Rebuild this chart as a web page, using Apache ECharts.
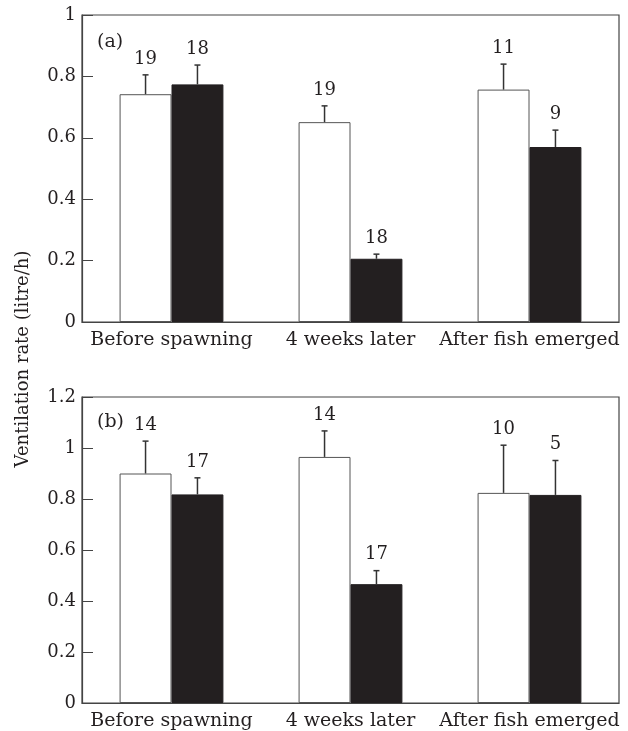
<!DOCTYPE html>
<html>
<head>
<meta charset="utf-8">
<script src="https://cdn.jsdelivr.net/npm/echarts@6/dist/echarts.min.js"></script>
<style>html,body{margin:0;padding:0;background:#fff}#c{width:628px;height:731px}</style>
</head>
<body>
<div id="c"></div>
<script>
const categories = ['Before spawning', '4 weeks later', 'After fish emerged'];
// Panel (a)
const aWhiteMean = [0.742, 0.651, 0.757];
const aWhiteSE   = [0.063, 0.053, 0.083];
const aWhiteN    = [19, 19, 11];
const aBlackMean = [0.774, 0.206, 0.570];
const aBlackSE   = [0.063, 0.015, 0.055];
const aBlackN    = [18, 18, 9];
// Panel (b)
const bWhiteMean = [0.900, 0.965, 0.824];
const bWhiteSE   = [0.127, 0.102, 0.187];
const bWhiteN    = [14, 14, 10];
const bBlackMean = [0.818, 0.466, 0.816];
const bBlackSE   = [0.065, 0.053, 0.135];
const bBlackN    = [17, 17, 5];

const FONT = 'DejaVu Serif';
const INK = '#231f20';
const AX = '#444';
const BARW = 0.29;

function errItem(sign) {
  return function (params, api) {
    const cat = api.value(0), mean = api.value(1), se = api.value(2), n = api.value(3);
    const base = api.coord([cat, mean]);
    const top = api.coord([cat, mean + se]);
    const band = api.size([1, 0])[0];
    const x = base[0] + sign * band * BARW / 2;
    return {
      type: 'group',
      children: [
        { type: 'line', shape: { x1: x, y1: base[1], x2: x, y2: top[1] }, style: { stroke: '#333', lineWidth: 1.5 } },
        { type: 'line', shape: { x1: x - 3, y1: top[1], x2: x + 3, y2: top[1] }, style: { stroke: '#333', lineWidth: 1.5 } },
        { type: 'text', x: x, y: top[1] - 7, style: { text: String(n), fontSize: 18, fontFamily: FONT, fill: INK, align: 'center', verticalAlign: 'bottom' } }
      ]
    };
  };
}
function errData(mean, se, n) { return mean.map((m, i) => [i, m, se[i], n[i]]); }

function xAx(idx) {
  return {
    type: 'category', gridIndex: idx, data: categories,
    axisLine: { lineStyle: { color: AX, width: 1.2 } },
    axisTick: { inside: true, length: 10, lineStyle: { color: AX } },
    axisLabel: { fontFamily: FONT, fontSize: 19, color: INK, margin: 9, interval: 0 }
  };
}
function yAx(idx, max) {
  return {
    type: 'value', gridIndex: idx, min: 0, max: max, interval: 0.2,
    axisLine: { show: true, lineStyle: { color: AX, width: 1.2 } },
    axisTick: { show: true, inside: true, length: 11, lineStyle: { color: AX } },
    axisLabel: { fontFamily: FONT, fontSize: 18, color: INK, margin: 6 },
    splitLine: { show: false }
  };
}
function bars(idx, data, fill) {
  return {
    type: 'bar', xAxisIndex: idx, yAxisIndex: idx, data: data,
    barWidth: (BARW * 100) + '%', barGap: '0%',
    itemStyle: { color: fill, borderColor: fill === '#fff' ? '#555' : INK, borderWidth: 1 },
    silent: true, animation: false
  };
}
function errs(idx, mean, se, n, sign) {
  return {
    type: 'custom', xAxisIndex: idx, yAxisIndex: idx, renderItem: errItem(sign),
    data: errData(mean, se, n), z: 5, silent: true, animation: false
  };
}

const chart = echarts.init(document.getElementById('c'));
chart.setOption({
  animation: false,
  backgroundColor: '#fff',
  grid: [
    { left: 82, top: 15, width: 537, height: 307, show: true, borderColor: AX, borderWidth: 1.2, backgroundColor: 'transparent' },
    { left: 82, top: 397, width: 537, height: 306, show: true, borderColor: AX, borderWidth: 1.2, backgroundColor: 'transparent' }
  ],
  xAxis: [xAx(0), xAx(1)],
  yAxis: [yAx(0, 1), yAx(1, 1.2)],
  series: [
    bars(0, aWhiteMean, '#fff'), bars(0, aBlackMean, INK),
    errs(0, aWhiteMean, aWhiteSE, aWhiteN, -1), errs(0, aBlackMean, aBlackSE, aBlackN, 1),
    bars(1, bWhiteMean, '#fff'), bars(1, bBlackMean, INK),
    errs(1, bWhiteMean, bWhiteSE, bWhiteN, -1), errs(1, bBlackMean, bBlackSE, bBlackN, 1)
  ],
  graphic: [
    { type: 'text', left: 97, top: 33, style: { text: '(a)', fontSize: 19, fontFamily: FONT, fill: INK } },
    { type: 'text', left: 97, top: 413, style: { text: '(b)', fontSize: 19, fontFamily: FONT, fill: INK } },
    { type: 'text', x: 23, y: 359, rotation: Math.PI / 2,
      style: { text: 'Ventilation rate (litre/h)', fontSize: 18, fontFamily: FONT, fill: INK, align: 'center', verticalAlign: 'middle' } }
  ]
});
</script>
</body>
</html>
